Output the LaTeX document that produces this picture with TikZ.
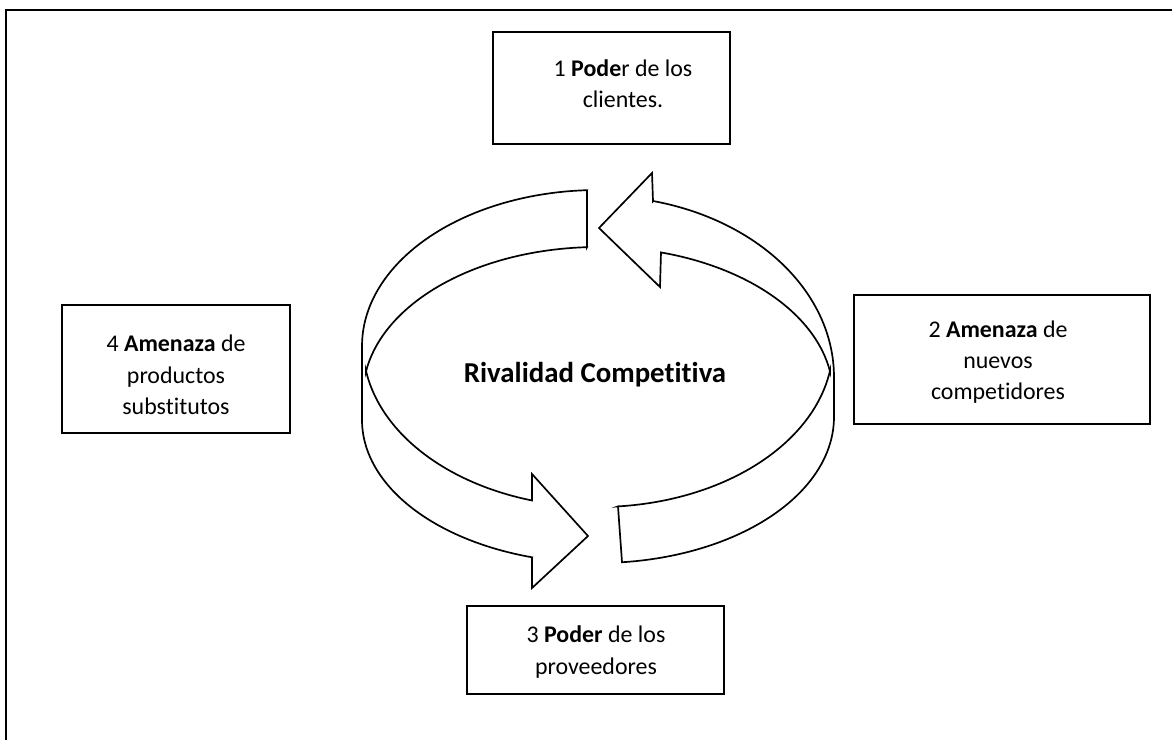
\documentclass[tikz,border=0pt]{standalone}
\usepackage{fontspec}
\setmainfont{Carlito}[Ligatures=NoCommon]
\begin{document}
\begin{tikzpicture}[x=0.025cm,y=-0.025cm,
  frame/.style={line width=1.5pt},
  box/.style={draw, line width=1.5pt, inner sep=0pt},
  lbl/.style={align=center, inner sep=0pt, font=\fontsize{17}{22.3}\selectfont},
  band/.style={draw, fill=white, line width=1.2pt, line join=miter}]
\useasboundingbox (0,0) rectangle (1172,739);

% outer frame
\draw[frame] (6,745) -- (6,10) -- (1180,10);

% left curved arrow (tail at top, head pointing right at the bottom)
\draw[band] (587,190.2) -- (587,247.2)
  -- plot[domain=92.68:170.73,samples=50] ({598+235*cos(\x)},{395-148*sin(\x)})
  -- plot[domain=189.27:253.69,samples=50] ({598+235*cos(\x)},{345-162*sin(\x)})
  -- (532,474) -- (588,536) -- (532,588) -- (532,557.3)
  -- plot[domain=253.76:180,samples=50] ({598+236*cos(\x)},{420-143*sin(\x)})
  -- (362,346)
  -- plot[domain=180:92.67,samples=50] ({598+236*cos(\x)},{346-156*sin(\x)})
  -- cycle;

% right curved arrow (tail at bottom, head pointing left at the top)
\draw[band] (599,228) -- (652,173) -- (653,201)
  -- plot[domain=76.52:0,samples=50] ({598+236*cos(\x)},{377-181*sin(\x)})
  -- (834,417)
  -- plot[domain=360:275.84,samples=50] ({598+236*cos(\x)},{417-146*sin(\x)})
  -- (618,506.4)
  -- plot[domain=274.88:350.73,samples=50] ({598+235*cos(\x)},{345-162*sin(\x)})
  -- plot[domain=9.27:74.45,samples=50] ({598+235*cos(\x)},{395-148*sin(\x)})
  -- (660,287) -- cycle;

% centre label
\node[font=\fontsize{20.5}{24}\selectfont\bfseries] (rival) at (595,375) {Rivalidad Competitiva};

% the four forces
\node[box, minimum width=5.925cm, minimum height=2.8cm] (b1) at (611.5,88) {};
\node[lbl] (t1) at (623,84) {1 \textbf{Pode}r de los\\clientes.};

\node[box, minimum width=7.4cm, minimum height=3.225cm] (b2) at (1002,359.5) {};
\node[lbl] (t2) at (998,362) {2 \textbf{Amenaza} de\\nuevos\\competidores};

\node[box, minimum width=6.425cm, minimum height=2.2cm] (b3) at (595.5,650) {};
\node[lbl] (t3) at (596,652) {3 \textbf{Poder} de los\\proveedores};

\node[box, minimum width=5.7cm, minimum height=3.2cm] (b4) at (176,369) {};
\node[lbl] (t4) at (176,375) {4 \textbf{Amenaza} de\\productos\\substitutos};
\end{tikzpicture}
\end{document}
